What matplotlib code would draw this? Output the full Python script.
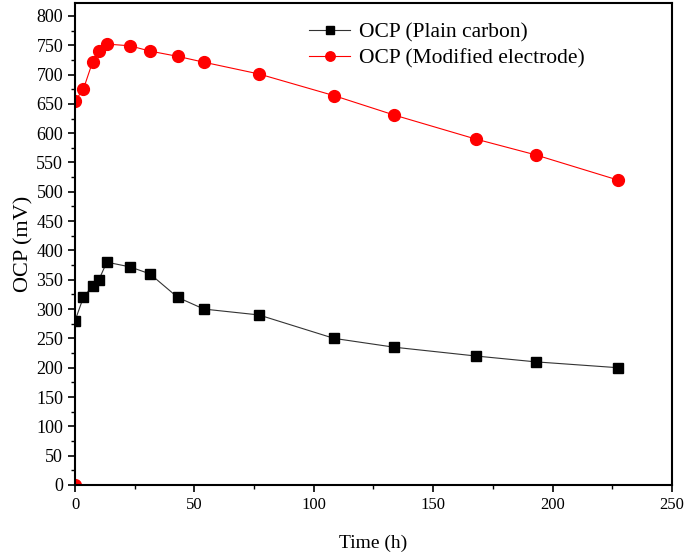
import matplotlib
matplotlib.use("Agg")
import matplotlib.pyplot as plt
from matplotlib.ticker import MultipleLocator

# tempo (h) e OCP (mV)
t_plain = [0, 3.5, 7.4, 10, 13.3, 23, 31.4, 43, 54, 77, 108.5, 133.6, 167.8, 192.9, 227.4]
ocp_plain = [280, 320, 340, 350, 380, 372, 360, 320, 300, 290, 250, 235, 220, 210, 200]

t_mod = [0, 0, 3.5, 7.4, 10, 13.3, 23, 31.4, 43, 54, 77, 108.5, 133.6, 167.8, 192.9, 227.4]
ocp_mod = [0, 655, 675, 722, 740, 752, 749, 740, 731, 721, 701, 664, 631, 590, 563, 520]

plt.rcParams["font.family"] = ["Liberation Serif", "DejaVu Serif"]

fig = plt.figure(figsize=(6.85, 5.57), dpi=100)
ax = fig.add_axes([0.1095, 0.1293, 0.8715, 0.8653])

ax.plot(t_plain, ocp_plain, color="#333333", lw=0.8, marker="s", ms=7.2,
        mfc="black", mec="black", label="OCP (Plain carbon)")
ax.plot(t_mod, ocp_mod, color="red", lw=0.8, marker="o", ms=8.5,
        mfc="red", mec="red", label="OCP (Modified electrode)")

ax.set_xlim(0, 250)
ax.set_ylim(0, 822)
ax.xaxis.set_major_locator(MultipleLocator(50))
ax.xaxis.set_minor_locator(MultipleLocator(25))
ax.yaxis.set_major_locator(MultipleLocator(50))
ax.yaxis.set_minor_locator(MultipleLocator(25))
ax.tick_params(which="major", direction="out", length=5, width=1.2)
ax.tick_params(which="minor", direction="out", length=3, width=1.0)
ax.tick_params(axis="x", labelsize=12)
ax.tick_params(axis="y", labelsize=13)
for s in ax.spines.values():
    s.set_linewidth(1.5)

ax.set_xlabel("Time (h)", fontsize=14, labelpad=16)
ax.set_ylabel("OCP (mV)", fontsize=16, labelpad=2)

ax.legend(loc="upper left", bbox_to_anchor=(0.36, 1.0), frameon=False,
          fontsize=15.5, handlelength=1.9, handletextpad=0.4, labelspacing=0.3,
          markerscale=0.8)

fig.savefig("out.png", dpi=100)
